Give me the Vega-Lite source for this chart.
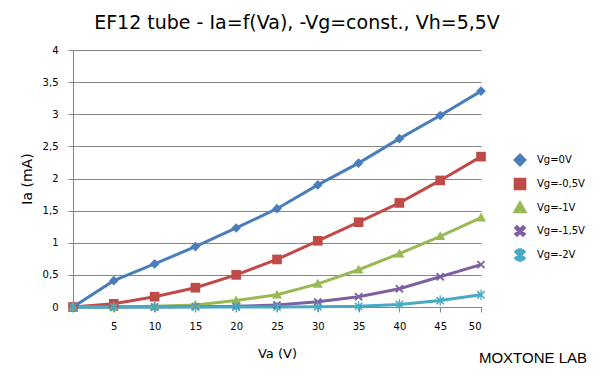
{
  "$schema": "https://vega.github.io/schema/vega-lite/v6.json",
  "width": 408,
  "height": 257,
  "autosize": {"type": "none"},
  "padding": {"left": 73, "top": 50, "right": 120, "bottom": 74},
  "background": "white",
  "title": {
    "text": "EF12 tube - Ia=f(Va), -Vg=const., Vh=5,5V",
    "font": "DejaVu Sans",
    "fontSize": 19,
    "fontWeight": "normal",
    "color": "#000000",
    "anchor": "middle",
    "frame": "group",
    "dx": 20,
    "offset": 12
  },
  "config": {
    "view": {"stroke": null},
    "axis": {
      "labelFont": "DejaVu Sans",
      "labelFontSize": 10,
      "labelColor": "#000000",
      "titleFont": "DejaVu Sans",
      "titleFontSize": 13,
      "titleFontWeight": "normal",
      "titleColor": "#000000",
      "domainColor": "#868686",
      "tickColor": "#868686",
      "gridColor": "#868686",
      "gridOpacity": 1,
      "domainWidth": 1,
      "tickSize": 5
    }
  },
  "datasets": {
    "curves": [
      {"Va": 0, "Ia": 0, "series": "Vg=0V"},
      {"Va": 5, "Ia": 0.41, "series": "Vg=0V"},
      {"Va": 10, "Ia": 0.67, "series": "Vg=0V"},
      {"Va": 15, "Ia": 0.94, "series": "Vg=0V"},
      {"Va": 20, "Ia": 1.23, "series": "Vg=0V"},
      {"Va": 25, "Ia": 1.53, "series": "Vg=0V"},
      {"Va": 30, "Ia": 1.9, "series": "Vg=0V"},
      {"Va": 35, "Ia": 2.24, "series": "Vg=0V"},
      {"Va": 40, "Ia": 2.62, "series": "Vg=0V"},
      {"Va": 45, "Ia": 2.98, "series": "Vg=0V"},
      {"Va": 50, "Ia": 3.36, "series": "Vg=0V"},
      {"Va": 0, "Ia": 0, "series": "Vg=-0,5V"},
      {"Va": 5, "Ia": 0.05, "series": "Vg=-0,5V"},
      {"Va": 10, "Ia": 0.16, "series": "Vg=-0,5V"},
      {"Va": 15, "Ia": 0.3, "series": "Vg=-0,5V"},
      {"Va": 20, "Ia": 0.5, "series": "Vg=-0,5V"},
      {"Va": 25, "Ia": 0.74, "series": "Vg=-0,5V"},
      {"Va": 30, "Ia": 1.03, "series": "Vg=-0,5V"},
      {"Va": 35, "Ia": 1.32, "series": "Vg=-0,5V"},
      {"Va": 40, "Ia": 1.62, "series": "Vg=-0,5V"},
      {"Va": 45, "Ia": 1.97, "series": "Vg=-0,5V"},
      {"Va": 50, "Ia": 2.34, "series": "Vg=-0,5V"},
      {"Va": 0, "Ia": 0, "series": "Vg=-1V"},
      {"Va": 5, "Ia": 0, "series": "Vg=-1V"},
      {"Va": 10, "Ia": 0.01, "series": "Vg=-1V"},
      {"Va": 15, "Ia": 0.03, "series": "Vg=-1V"},
      {"Va": 20, "Ia": 0.1, "series": "Vg=-1V"},
      {"Va": 25, "Ia": 0.19, "series": "Vg=-1V"},
      {"Va": 30, "Ia": 0.36, "series": "Vg=-1V"},
      {"Va": 35, "Ia": 0.58, "series": "Vg=-1V"},
      {"Va": 40, "Ia": 0.83, "series": "Vg=-1V"},
      {"Va": 45, "Ia": 1.1, "series": "Vg=-1V"},
      {"Va": 50, "Ia": 1.39, "series": "Vg=-1V"},
      {"Va": 0, "Ia": 0, "series": "Vg=-1,5V"},
      {"Va": 5, "Ia": 0, "series": "Vg=-1,5V"},
      {"Va": 10, "Ia": 0, "series": "Vg=-1,5V"},
      {"Va": 15, "Ia": 0.005, "series": "Vg=-1,5V"},
      {"Va": 20, "Ia": 0.01, "series": "Vg=-1,5V"},
      {"Va": 25, "Ia": 0.03, "series": "Vg=-1,5V"},
      {"Va": 30, "Ia": 0.08, "series": "Vg=-1,5V"},
      {"Va": 35, "Ia": 0.16, "series": "Vg=-1,5V"},
      {"Va": 40, "Ia": 0.285, "series": "Vg=-1,5V"},
      {"Va": 45, "Ia": 0.47, "series": "Vg=-1,5V"},
      {"Va": 50, "Ia": 0.66, "series": "Vg=-1,5V"},
      {"Va": 0, "Ia": 0, "series": "Vg=-2V"},
      {"Va": 5, "Ia": 0, "series": "Vg=-2V"},
      {"Va": 10, "Ia": 0, "series": "Vg=-2V"},
      {"Va": 15, "Ia": 0, "series": "Vg=-2V"},
      {"Va": 20, "Ia": 0, "series": "Vg=-2V"},
      {"Va": 25, "Ia": 0, "series": "Vg=-2V"},
      {"Va": 30, "Ia": 0.005, "series": "Vg=-2V"},
      {"Va": 35, "Ia": 0.01, "series": "Vg=-2V"},
      {"Va": 40, "Ia": 0.04, "series": "Vg=-2V"},
      {"Va": 45, "Ia": 0.1, "series": "Vg=-2V"},
      {"Va": 50, "Ia": 0.19, "series": "Vg=-2V"}
    ],
    "credit": [
      {"Va": 50, "Ia": 0, "label": "MOXTONE LAB"}
    ]
  },
  "encoding": {
    "x": {
      "field": "Va", "type": "quantitative",
      "scale": {"domain": [0, 50], "nice": false, "zero": false},
      "axis": {
        "title": "Va (V)",
        "values": [0, 5, 10, 15, 20, 25, 30, 35, 40, 45, 50],
        "labelExpr": "datum.value == 0 ? '' : datum.label",
        "grid": false,
        "labelPadding": 9,
        "titlePadding": 16
      }
    },
    "y": {
      "field": "Ia", "type": "quantitative",
      "scale": {"domain": [0, 4], "nice": false},
      "axis": {
        "title": "Ia (mA)",
        "values": [0, 0.5, 1, 1.5, 2, 2.5, 3, 3.5, 4],
        "format": ".1~f",
        "labelExpr": "replace(datum.label, '.', ',')",
        "labelOverlap": false,
        "grid": true,
        "labelPadding": 10,
        "titlePadding": 8,
        "titleFontSize": 14
      }
    }
  },
  "layer": [
    {
      "data": {"name": "curves"},
      "mark": {"type": "line", "strokeWidth": 3, "interpolate": "linear"},
      "encoding": {
        "stroke": {
          "field": "series", "type": "nominal",
          "scale": {
            "domain": ["Vg=0V", "Vg=-0,5V", "Vg=-1V", "Vg=-1,5V", "Vg=-2V"],
            "range": ["#4A7EBB", "#BE4B48", "#98B954", "#7D60A0", "#46AAC5"]
          },
          "legend": {
            "title": null,
            "orient": "none",
            "legendX": 435,
            "legendY": 98,
            "symbolType": "stroke",
            "symbolSize": 441,
            "symbolStrokeWidth": 3,
            "rowPadding": 1,
            "labelFont": "DejaVu Sans",
            "labelFontSize": 10,
            "labelColor": "#000000",
            "labelOffset": 5
          }
        }
      }
    },
    {
      "data": {"name": "curves"},
      "transform": [{"calculate": "datum.series", "as": "marker"}],
      "mark": {"type": "point", "filled": true, "opacity": 1, "size": 441},
      "encoding": {
        "color": {
          "field": "marker", "type": "nominal",
          "scale": {
            "domain": ["Vg=0V", "Vg=-0,5V", "Vg=-1V", "Vg=-1,5V", "Vg=-2V"],
            "range": ["#4A7EBB", "#BE4B48", "#98B954", "#7D60A0", "#46AAC5"]
          },
          "legend": {
            "title": null,
            "orient": "none",
            "legendX": 435,
            "legendY": 98,
            "symbolSize": 441,
            "symbolStrokeWidth": 3,
            "symbolStrokeColor": "transparent",
            "rowPadding": 1,
            "labelFont": "DejaVu Sans",
            "labelFontSize": 10,
            "labelColor": "#000000",
            "labelOffset": 5
          }
        },
        "shape": {
          "field": "marker", "type": "nominal",
          "scale": {
            "domain": ["Vg=0V", "Vg=-0,5V", "Vg=-1V", "Vg=-1,5V", "Vg=-2V"],
            "range": [
              "M0,-0.46L0.46,0L0,0.46L-0.46,0Z",
              "M-0.46,-0.46H0.46V0.46H-0.46Z",
              "M0,-0.48L0.48,0.36L-0.48,0.36Z",
              "M-0.4,-0.28L-0.28,-0.4L0.4,0.28L0.28,0.4ZM-0.28,0.4L-0.4,0.28L0.28,-0.4L0.4,-0.28Z",
              "M-0.4,-0.3L-0.3,-0.4L0.4,0.3L0.3,0.4ZM-0.3,0.4L-0.4,0.3L0.3,-0.4L0.4,-0.3ZM-0.06,-0.5H0.06V0.5H-0.06Z"
            ]
          },
          "legend": {
            "title": null,
            "orient": "none",
            "legendX": 435,
            "legendY": 98,
            "symbolSize": 441,
            "symbolStrokeWidth": 3,
            "symbolStrokeColor": "transparent",
            "rowPadding": 1,
            "labelFont": "DejaVu Sans",
            "labelFontSize": 10,
            "labelColor": "#000000",
            "labelOffset": 5
          }
        }
      }
    },
    {
      "data": {"name": "credit"},
      "mark": {
        "type": "text",
        "font": "Liberation Sans",
        "fontSize": 15,
        "align": "right",
        "baseline": "alphabetic",
        "dx": 106,
        "dy": 56,
        "color": "#000000"
      },
      "encoding": {
        "text": {"field": "label"}
      }
    }
  ]
}
